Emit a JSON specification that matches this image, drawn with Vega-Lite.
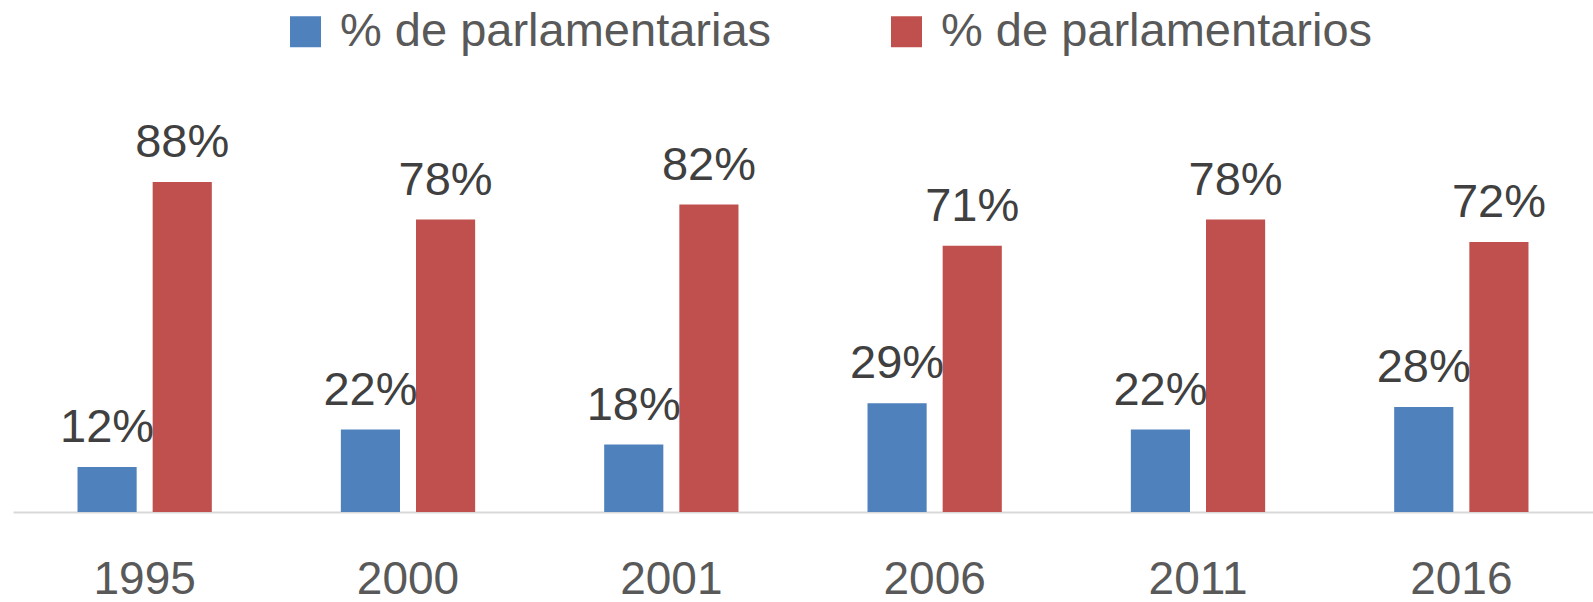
{
  "$schema": "https://vega.github.io/schema/vega-lite/v6.json",
  "width": 1580,
  "height": 375,
  "autosize": {"type": "none"},
  "padding": {"left": 13, "top": 137, "right": 0, "bottom": 90},
  "background": "white",
  "config": {"view": {"stroke": null}, "font": "Liberation Sans"},
  "data": {
    "values": [
      {"year": "1995", "serie": "% de parlamentarias", "value": 0.12},
      {"year": "1995", "serie": "% de parlamentarios", "value": 0.88},
      {"year": "2000", "serie": "% de parlamentarias", "value": 0.22},
      {"year": "2000", "serie": "% de parlamentarios", "value": 0.78},
      {"year": "2001", "serie": "% de parlamentarias", "value": 0.18},
      {"year": "2001", "serie": "% de parlamentarios", "value": 0.82},
      {"year": "2006", "serie": "% de parlamentarias", "value": 0.29},
      {"year": "2006", "serie": "% de parlamentarios", "value": 0.71},
      {"year": "2011", "serie": "% de parlamentarias", "value": 0.22},
      {"year": "2011", "serie": "% de parlamentarios", "value": 0.78},
      {"year": "2016", "serie": "% de parlamentarias", "value": 0.28},
      {"year": "2016", "serie": "% de parlamentarios", "value": 0.72}
    ]
  },
  "encoding": {
    "x": {
      "field": "year",
      "type": "nominal",
      "scale": {"paddingInner": 0.49, "paddingOuter": 0.245},
      "axis": {
        "title": null,
        "labelAngle": 0,
        "labelFontSize": 46,
        "labelColor": "#595959",
        "labelPadding": 45,
        "ticks": false,
        "tickSize": 0,
        "domainColor": "#d9d9d9",
        "domainWidth": 2,
        "grid": false
      }
    },
    "xOffset": {
      "field": "serie",
      "type": "nominal",
      "sort": ["% de parlamentarias", "% de parlamentarios"],
      "scale": {"paddingInner": 0.213, "paddingOuter": 0}
    },
    "y": {
      "field": "value",
      "type": "quantitative",
      "scale": {"domain": [0, 1]},
      "axis": null
    }
  },
  "layer": [
    {
      "mark": {"type": "bar"},
      "encoding": {
        "color": {
          "field": "serie",
          "type": "nominal",
          "sort": ["% de parlamentarias", "% de parlamentarios"],
          "scale": {"domain": ["% de parlamentarias", "% de parlamentarios"], "range": ["#4F81BD", "#C0504D"]},
          "legend": {
            "title": null,
            "orient": "none",
            "direction": "horizontal",
            "legendX": 269,
            "legendY": -129,
            "symbolType": "square",
            "symbolSize": 961,
            "symbolStrokeWidth": 0,
            "labelFontSize": 47,
            "labelColor": "#595959",
            "labelLimit": 700,
            "labelOffset": 11,
            "columnPadding": 111
          }
        }
      }
    },
    {
      "mark": {"type": "text", "baseline": "alphabetic", "dy": -25, "fontSize": 47, "color": "#404040"},
      "encoding": {
        "text": {"field": "value", "type": "quantitative", "format": ".0%"}
      }
    }
  ]
}
